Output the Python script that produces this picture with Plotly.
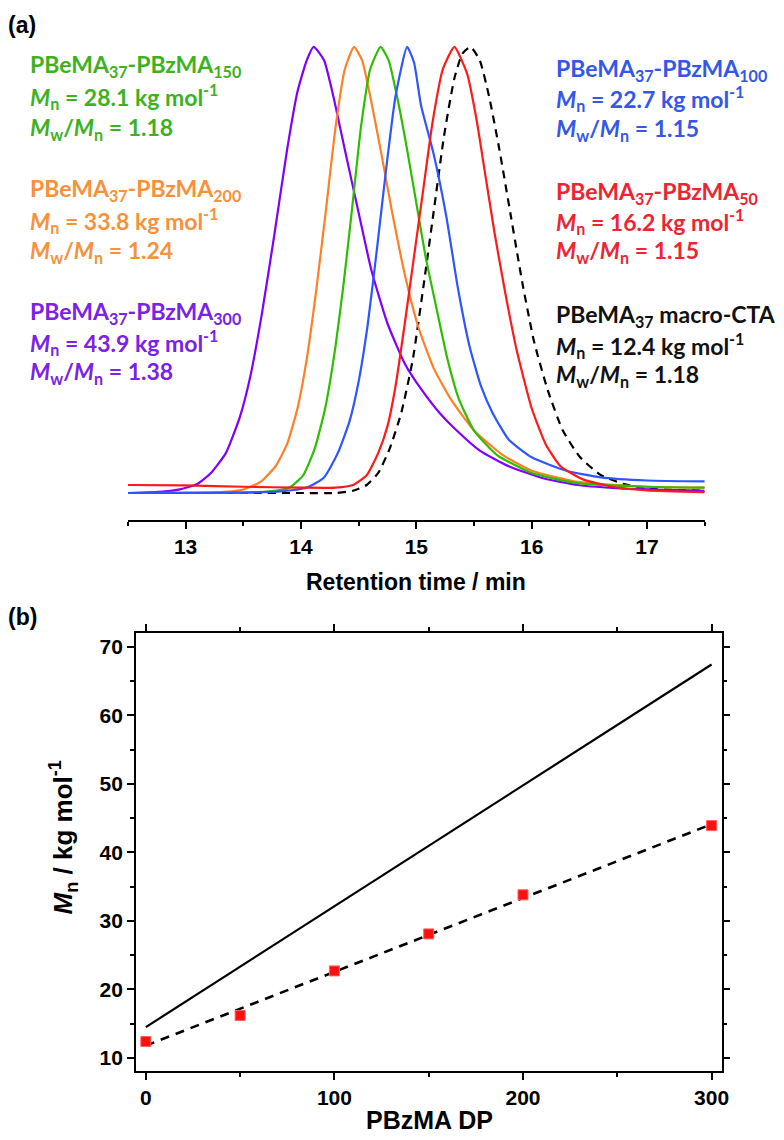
import plotly.graph_objects as go

W, H = 784, 1140

# ---------------- Panel (a) data: GPC traces (normalised RI signal) ----------------
t_purple = [12.5, 12.8, 12.95, 13.1, 13.22, 13.35, 13.47, 13.56, 13.66, 13.77, 13.88, 13.97, 14.05, 14.11,
            14.2, 14.28, 14.38, 14.49, 14.61, 14.75, 14.9, 15.05, 15.2, 15.35, 15.55, 15.8, 16.1, 16.4, 16.8, 17.5]
y_purple = [0.0, 0.003, 0.008, 0.02, 0.045, 0.09, 0.17, 0.26, 0.40, 0.58, 0.77, 0.90, 0.97, 1.0,
            0.97, 0.89, 0.77, 0.64, 0.50, 0.38, 0.29, 0.23, 0.18, 0.14, 0.095, 0.06, 0.033, 0.018, 0.01, 0.005]

t_orange = [12.5, 13.3, 13.5, 13.65, 13.78, 13.88, 13.97, 14.05, 14.13, 14.21, 14.3, 14.38, 14.46,
            14.53, 14.6, 14.69, 14.79, 14.9, 15.02, 15.15, 15.3, 15.5, 15.75, 16.0, 16.4, 17.0, 17.5]
y_orange = [0.0, 0.002, 0.008, 0.025, 0.06, 0.11, 0.19, 0.30, 0.45, 0.62, 0.82, 0.95, 1.0,
            0.97, 0.89, 0.77, 0.63, 0.49, 0.37, 0.28, 0.21, 0.14, 0.085, 0.05, 0.025, 0.014, 0.012]

t_green = [12.5, 13.7, 13.9, 14.02, 14.12, 14.21, 14.3, 14.37, 14.44, 14.52, 14.6, 14.69,
           14.76, 14.84, 14.92, 15.0, 15.08, 15.17, 15.27, 15.37, 15.5, 15.7, 16.0, 16.4, 17.0, 17.5]
y_green = [0.0, 0.003, 0.012, 0.04, 0.10, 0.19, 0.33, 0.47, 0.63, 0.82, 0.95, 1.0,
           0.97, 0.88, 0.77, 0.65, 0.53, 0.42, 0.30, 0.21, 0.14, 0.085, 0.045, 0.022, 0.014, 0.012]

t_blue = [12.5, 13.8, 14.05, 14.2, 14.32, 14.42, 14.5, 14.58, 14.66, 14.74, 14.82, 14.92,
          14.98, 15.04, 15.15, 15.26, 15.36, 15.46, 15.56, 15.66, 15.8, 16.0, 16.3, 16.6, 17.0, 17.5]
y_blue = [0.0, 0.003, 0.012, 0.035, 0.09, 0.16, 0.25, 0.38, 0.55, 0.73, 0.89, 1.0,
          0.965, 0.87, 0.76, 0.62, 0.46, 0.33, 0.24, 0.18, 0.12, 0.08, 0.05, 0.035, 0.028, 0.026]

t_red = [12.5, 13.0, 13.5, 14.0, 14.3, 14.45, 14.57, 14.67, 14.75, 14.82, 14.9, 14.98, 15.06, 15.14, 15.23, 15.33,
         15.44, 15.52, 15.6, 15.68, 15.77, 15.87, 16.0, 16.12, 16.25, 16.45, 16.7, 17.0, 17.5]
y_red = [0.018, 0.017, 0.014, 0.012, 0.012, 0.018, 0.04, 0.09, 0.15, 0.24, 0.38, 0.53, 0.68, 0.83, 0.95, 1.0,
         0.94, 0.84, 0.71, 0.58, 0.45, 0.32, 0.19, 0.11, 0.06, 0.03, 0.014, 0.006, 0.002]

t_black = [12.5, 13.5, 14.0, 14.3, 14.45, 14.57, 14.67, 14.77, 14.87, 14.97, 15.06, 15.15, 15.24, 15.33, 15.4, 15.47,
           15.55, 15.63, 15.72, 15.82, 15.92, 16.02, 16.14, 16.27, 16.42, 16.6, 16.8, 17.0, 17.5]
y_black = [0.0, 0.0, 0.0, 0.0, 0.005, 0.018, 0.045, 0.10, 0.18, 0.30, 0.46, 0.63, 0.80, 0.93, 0.985, 1.0,
           0.97, 0.89, 0.77, 0.62, 0.47, 0.34, 0.23, 0.14, 0.08, 0.04, 0.02, 0.01, 0.005]

xticks_a = [13, 14, 15, 16, 17]

# ---------------- Panel (b) data ----------------
dp = [0, 50, 100, 150, 200, 300]
mn = [12.4, 16.2, 22.7, 28.1, 33.8, 43.9]
theory_dp = [0, 300]
theory_mn = [14.5, 67.4]
fit_dp = [0, 300]
fit_mn = [11.8, 44.1]
xticks_b = [0, 100, 200, 300]
yticks_b = [10, 20, 30, 40, 50, 60, 70]

# labels: (name, Mn, Mw/Mn, colour)
labels_left = [
    ("PBeMA<sub>37</sub>-PBzMA<sub>150</sub>", "28.1", "1.18", "#3DB21E"),
    ("PBeMA<sub>37</sub>-PBzMA<sub>200</sub>", "33.8", "1.24", "#F7913A"),
    ("PBeMA<sub>37</sub>-PBzMA<sub>300</sub>", "43.9", "1.38", "#7A22E6"),
]
labels_right = [
    ("PBeMA<sub>37</sub>-PBzMA<sub>100</sub>", "22.7", "1.15", "#3557E8"),
    ("PBeMA<sub>37</sub>-PBzMA<sub>50</sub>", "16.2", "1.15", "#EE2433"),
    ("PBeMA<sub>37</sub> macro-CTA", "12.4", "1.18", "#111111"),
]


def px(x):
    return x / W


def py(y):
    return 1 - y / H


fig = go.Figure()

line_w = 2.2
for t, y, c, dash in [
    (t_black, y_black, "black", "8px,6px"),
    (t_purple, y_purple, "#7F00FF", None),
    (t_orange, y_orange, "#FF7F27", None),
    (t_green, y_green, "#2DBE00", None),
    (t_blue, y_blue, "#2F55FF", None),
    (t_red, y_red, "#FF1A1A", None),
]:
    fig.add_trace(go.Scatter(x=t, y=y, mode="lines",
                             line=dict(color=c, width=line_w, dash=dash, shape="spline", smoothing=0.5),
                             xaxis="x", yaxis="y", showlegend=False))

# panel b traces
fig.add_trace(go.Scatter(x=theory_dp, y=theory_mn, mode="lines", line=dict(color="black", width=2.2),
                         xaxis="x2", yaxis="y2", showlegend=False))
fig.add_trace(go.Scatter(x=fit_dp, y=fit_mn, mode="lines", line=dict(color="black", width=2.6, dash="9px,7px"),
                         xaxis="x2", yaxis="y2", showlegend=False))
fig.add_trace(go.Scatter(x=dp, y=mn, mode="markers",
                         marker=dict(symbol="square", size=10, color="#FF1010", line=dict(color="#FF6060", width=1)),
                         xaxis="x2", yaxis="y2", showlegend=False))

tick_font = dict(family="Liberation Sans Narrow, Arial Narrow, Liberation Sans, Arial", size=21, color="black",
                 weight="bold")
lab_font_family = "Lato, Open Sans, Liberation Sans, sans-serif"

axis_common = dict(showline=True, linecolor="black", linewidth=1.6, ticks="outside", ticklen=7, tickwidth=1.6,
                   tickcolor="black", showgrid=False, zeroline=False, tickfont=tick_font)

fig.update_layout(
    width=W, height=H,
    margin=dict(l=0, r=0, t=0, b=0),
    paper_bgcolor="white", plot_bgcolor="white",
    xaxis=dict(domain=[px(121), px(703)], range=[12.5, 17.5], anchor="y", tickvals=xticks_a,
               minor=dict(dtick=0.5, tick0=12.5, ticklen=4, tickwidth=1.6, tickcolor="black", ticks="outside",
                          showgrid=False),
               **axis_common),
    yaxis=dict(domain=[py(512), py(30)], range=[-0.0605, 1.020], visible=False),
    xaxis2=dict(domain=[px(129), px(720)], range=[-5.3, 305.3], anchor="y2", mirror="ticks", tickvals=xticks_b,
                minor=dict(tickvals=[50, 150, 250], ticklen=4, tickwidth=1.6, tickcolor="black", ticks="outside",
                           showgrid=False),
                **axis_common),
    yaxis2=dict(domain=[py(1063), py(625)], range=[8.1, 72.0], anchor="x2", mirror="ticks", tickvals=yticks_b,
                minor=dict(tickvals=[15, 25, 35, 45, 55, 65], ticklen=4, tickwidth=1.6, tickcolor="black",
                           ticks="outside", showgrid=False),
                **axis_common),
)

ann = []
# axis titles
ann.append(dict(text="<b>Retention time / min</b>", x=px(412), y=py(574), xref="paper", yref="paper",
                showarrow=False, xanchor="center", yanchor="middle",
                font=dict(family="Liberation Sans Narrow, Arial Narrow, Liberation Sans", size=23, color="black")))
ann.append(dict(text="<b>PBzMA DP</b>", x=px(425), y=py(1112), xref="paper", yref="paper", showarrow=False,
                xanchor="center", yanchor="middle",
                font=dict(family="Liberation Sans, Arial", size=25, color="black")))
ann.append(dict(text="<b><i>M</i><sub>n</sub> / kg mol<sup>-1</sup></b>", x=px(56), y=py(830), xref="paper",
                yref="paper", showarrow=False, textangle=-90, xanchor="center", yanchor="middle",
                font=dict(family="Liberation Sans, Arial", size=26, color="black")))
# panel labels
ann.append(dict(text="<b>(a)</b>", x=px(-2), y=py(17), xref="paper", yref="paper", showarrow=False,
                xanchor="left", yanchor="middle", font=dict(family="Liberation Sans, Arial", size=23, color="black")))
ann.append(dict(text="<b>(b)</b>", x=px(-2), y=py(609), xref="paper", yref="paper", showarrow=False,
                xanchor="left", yanchor="middle", font=dict(family="Liberation Sans, Arial", size=23, color="black")))

# text baselines
left_base = [[68, 100, 131], [192, 224, 254], [315, 346, 375]]
right_base = [[72, 102, 132], [195, 225, 254], [318, 349, 378]]
for (labels, bases, x0) in [(labels_left, left_base, 20), (labels_right, right_base, 551)]:
    for (name, m, d, c), ys in zip(labels, bases):
        lines = [
            f"<b>{name}</b>",
            f"<b><i>M</i><sub>n</sub> = {m} kg mol<sup>-1</sup></b>",
            f"<b><i>M</i><sub>w</sub>/<i>M</i><sub>n</sub> = {d}</b>",
        ]
        for txt, yb in zip(lines, ys):
            ann.append(dict(text=txt, x=px(x0), y=py(yb + 7), xref="paper", yref="paper", showarrow=False,
                            xanchor="left", yanchor="bottom",
                            font=dict(family=lab_font_family, size=23, color=c)))

fig.update_layout(annotations=ann)
fig.write_html("out.html")
